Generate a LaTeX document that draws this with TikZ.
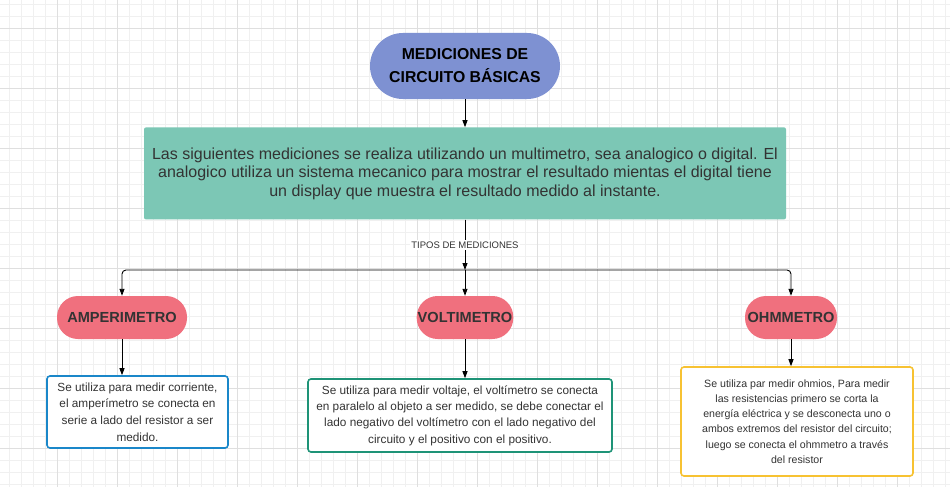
\documentclass[tikz,border=0pt]{standalone}
\usepackage{fontspec}
\setmainfont{Liberation Sans}
\usetikzlibrary{arrows.meta, positioning}

\definecolor{titlefill}{RGB}{126,145,210}
\definecolor{tealfill}{RGB}{124,199,181}
\definecolor{pillfill}{RGB}{240,112,126}
\definecolor{txtgray}{RGB}{51,51,51}
\definecolor{ampline}{RGB}{26,135,201}
\definecolor{voltline}{RGB}{30,147,119}
\definecolor{ohmline}{RGB}{247,194,50}

\begin{document}
\begin{tikzpicture}[x=1pt, y=-1pt,
  arr/.style={-{Triangle[length=7pt,width=5pt]}, line width=0.9pt, black},
  pill/.style={rectangle, rounded corners=21pt, fill=pillfill, text=txtgray, font=\fontsize{14.6}{17}\selectfont\bfseries,
    minimum height=43pt, inner xsep=1pt},
  info/.style={rectangle, rounded corners=3pt, line width=1.6pt, fill=white, text=txtgray, align=center, inner sep=2pt}]
  % fondo cuadriculado
  \useasboundingbox (0,0) rectangle (950,487);
  \fill[white] (0,0) rectangle (950,487);
  \foreach \gx in {9,21,...,945} \draw[gray!12, line width=0.6pt] (\gx,0) -- (\gx,487);
  \foreach \gy in {4,16,...,487} \draw[gray!12, line width=0.6pt] (0,\gy) -- (950,\gy);
  \foreach \gx in {57,117,...,945} \draw[gray!25, line width=0.6pt] (\gx,0) -- (\gx,487);
  \foreach \gy in {28,88,...,487} \draw[gray!25, line width=0.6pt] (0,\gy) -- (950,\gy);

  \node[rectangle, rounded corners=33pt, fill=titlefill, minimum width=190pt, minimum height=66pt, align=center,
    font=\fontsize{15.8}{23}\selectfont\bfseries] (title) at (465,66) {MEDICIONES DE\\CIRCUITO BÁSICAS};
  \node[rectangle, rounded corners=2pt, fill=tealfill, minimum width=642pt, minimum height=92pt, align=center,
    text=txtgray, font=\fontsize{16}{18.5}\selectfont, below=28pt of title] (intro)
    {Las siguientes mediciones se realiza utilizando un multimetro, sea analogico o digital. El\\
     analogico utiliza un sistema mecanico para mostrar el resultado mientas el digital tiene\\
     un display que muestra el resultado medido al instante.};

  \coordinate (split) at (465,270);
  \node[pill, minimum width=130pt] (amp) at (122,317.5) {AMPERIMETRO};
  \node[pill, minimum width=95pt] (volt) at (465,317.5) {VOLTIMETRO};
  \node[pill, minimum width=92pt] (ohm) at (791,317.5) {OHMMETRO};

  \node[info, draw=ampline, minimum width=181pt, minimum height=72pt, below=36pt of amp, xshift=15.5pt,
    font=\fontsize{11.8}{16.7}\selectfont] (ampbox)
    {Se utiliza para medir corriente,\\el amperímetro se conecta en\\serie a lado del resistor a ser\\medido.};
  \node[info, draw=voltline, minimum width=304pt, minimum height=73pt, below=39pt of volt, xshift=-5pt,
    font=\fontsize{11.8}{16.3}\selectfont] (voltbox)
    {Se utiliza para medir voltaje, el voltímetro se conecta\\en paralelo al objeto a ser medido, se debe conectar el\\lado negativo del voltímetro con el lado negativo del\\circuito y el positivo con el positivo.};
  \node[info, draw=ohmline, minimum width=232pt, minimum height=109pt, below=27pt of ohm, xshift=6pt,
    font=\fontsize{10.6}{15.2}\selectfont] (ohmbox)
    {Se utiliza par medir ohmios, Para medir\\las resistencias primero se corta la\\energía eléctrica y se desconecta uno o\\ambos extremos del resistor del circuito;\\luego se conecta el ohmmetro a través\\del resistor};

  \draw[arr] (title) -- (intro);
  \draw[arr] (intro) -- node[fill=white, inner sep=1.5pt, text=txtgray, font=\fontsize{9.5}{11}\selectfont]{TIPOS DE MEDICIONES} (split);
  \draw[arr] (split) -- (volt);
  \draw[arr, rounded corners=4pt] (split) -| (amp);
  \draw[arr, rounded corners=4pt] (split) -| (ohm);
  \draw[arr] (amp) -- (amp.south |- ampbox.north);
  \draw[arr] (volt) -- (volt.south |- voltbox.north);
  \draw[arr] (ohm) -- (ohm.south |- ohmbox.north);
\end{tikzpicture}
\end{document}
